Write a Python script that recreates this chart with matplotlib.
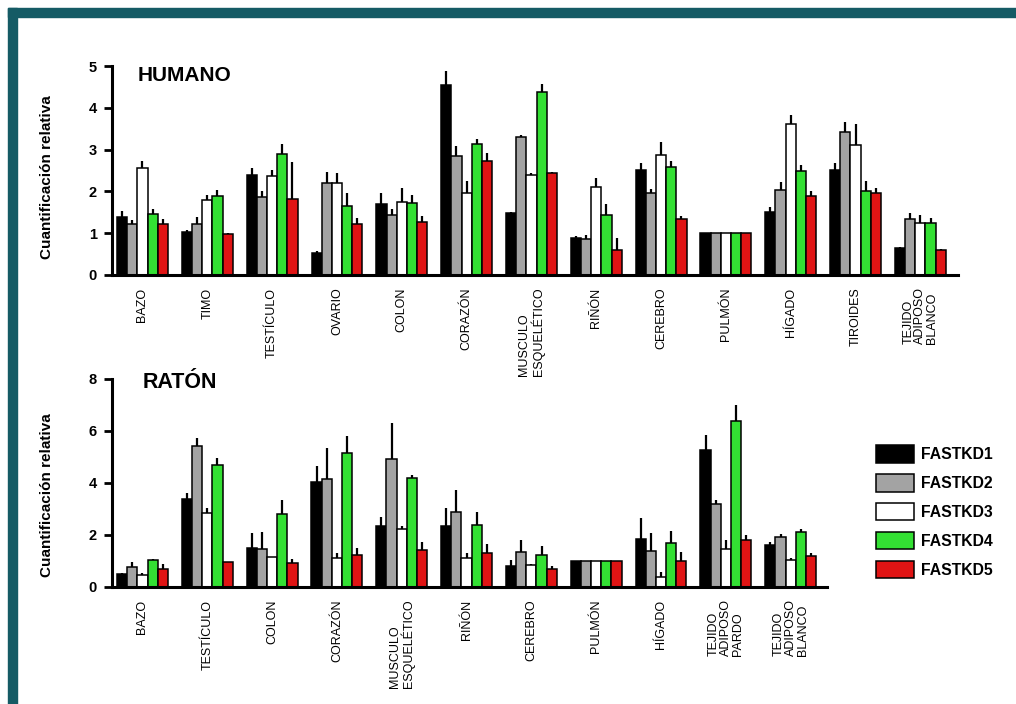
import numpy as np
import matplotlib
matplotlib.use("Agg")
import matplotlib.pyplot as plt
from matplotlib.patches import Patch, Rectangle

plt.rcParams['font.family'] = ['Liberation Sans', 'DejaVu Sans']

genes = ["FASTKD1", "FASTKD2", "FASTKD3", "FASTKD4", "FASTKD5"]
gene_colors = ["#000000", "#a3a3a3", "#ffffff", "#33e033", "#e01414"]

# ---- Human tissues ----
human_tissues = ["BAZO", "TIMO", "TESTÍCULO", "OVARIO", "COLON", "CORAZÓN",
                 "MUSCULO\nESQUELÉTICO", "RIÑÓN", "CEREBRO", "PULMÓN",
                 "HÍGADO", "TIROIDES", "TEJIDO\nADIPOSO\nBLANCO"]
human_fastkd1 = [1.39, 1.03, 2.40, 0.53, 1.70, 4.54, 1.49, 0.88, 2.51, 1.00, 1.51, 2.51, 0.64]
human_fastkd2 = [1.21, 1.23, 1.87, 2.20, 1.43, 2.84, 3.30, 0.86, 1.95, 1.00, 2.03, 3.42, 1.35]
human_fastkd3 = [2.57, 1.79, 2.37, 2.19, 1.75, 1.97, 2.39, 2.11, 2.87, 1.00, 3.61, 3.12, 1.25]
human_fastkd4 = [1.47, 1.89, 2.89, 1.66, 1.73, 3.13, 4.38, 1.43, 2.59, 1.00, 2.49, 2.01, 1.25]
human_fastkd5 = [1.23, 0.98, 1.82, 1.23, 1.27, 2.72, 2.43, 0.60, 1.33, 1.00, 1.89, 1.97, 0.60]
human_err1 = [0.14, 0.04, 0.17, 0.04, 0.27, 0.33, 0.02, 0.06, 0.18, 0.0, 0.12, 0.17, 0.02]
human_err2 = [0.10, 0.15, 0.14, 0.26, 0.16, 0.24, 0.06, 0.10, 0.10, 0.0, 0.20, 0.24, 0.14]
human_err3 = [0.16, 0.12, 0.15, 0.24, 0.32, 0.29, 0.04, 0.20, 0.32, 0.0, 0.21, 0.50, 0.18]
human_err4 = [0.10, 0.15, 0.24, 0.29, 0.18, 0.12, 0.20, 0.26, 0.14, 0.0, 0.14, 0.24, 0.12]
human_err5 = [0.10, 0.02, 0.89, 0.14, 0.14, 0.20, 0.04, 0.28, 0.08, 0.0, 0.11, 0.12, 0.03]

# ---- Mouse tissues ----
mouse_tissues = ["BAZO", "TESTÍCULO", "COLON", "CORAZÓN", "MUSCULO\nESQUELÉTICO",
                 "RIÑÓN", "CEREBRO", "PULMÓN", "HÍGADO",
                 "TEJIDO\nADIPOSO\nPARDO", "TEJIDO\nADIPOSO\nBLANCO"]
mouse_fastkd1 = [0.51, 3.37, 1.50, 4.05, 2.36, 2.35, 0.82, 1.00, 1.86, 5.27, 1.61]
mouse_fastkd2 = [0.77, 5.43, 1.48, 4.14, 4.94, 2.87, 1.35, 1.00, 1.39, 3.19, 1.93]
mouse_fastkd3 = [0.45, 2.86, 1.16, 1.13, 2.25, 1.12, 0.86, 1.00, 0.39, 1.45, 1.03]
mouse_fastkd4 = [1.03, 4.69, 2.80, 5.17, 4.20, 2.37, 1.25, 1.00, 1.70, 6.40, 2.10]
mouse_fastkd5 = [0.68, 0.96, 0.94, 1.25, 1.41, 1.31, 0.69, 1.00, 1.00, 1.80, 1.18]
mouse_err1 = [0.04, 0.26, 0.58, 0.60, 0.32, 0.67, 0.20, 0.0, 0.80, 0.58, 0.13]
mouse_err2 = [0.19, 0.32, 0.64, 1.22, 1.36, 0.86, 0.45, 0.0, 0.67, 0.15, 0.09]
mouse_err3 = [0.10, 0.17, 0.0, 0.18, 0.10, 0.20, 0.03, 0.0, 0.19, 0.35, 0.10]
mouse_err4 = [0.06, 0.26, 0.54, 0.62, 0.10, 0.53, 0.33, 0.0, 0.46, 0.60, 0.13]
mouse_err5 = [0.19, 0.02, 0.15, 0.26, 0.32, 0.33, 0.10, 0.0, 0.35, 0.21, 0.13]

W, H = 1016, 704
fig = plt.figure(figsize=(W / 100, H / 100), dpi=100)
fig.patch.set_facecolor("white")

# teal frame along top and left edges
frame_col = "#155b65"
fig.patches.append(Rectangle((8.3 / W, 1 - 16.7 / H), 1, 8.4 / H,
                             transform=fig.transFigure, color=frame_col, zorder=0))
fig.patches.append(Rectangle((8.3 / W, 0), 8.4 / W, 1 - 8.3 / H,
                             transform=fig.transFigure, color=frame_col, zorder=0))


def px_axes(left, right, top, bottom):
    ax = fig.add_axes([left / W, 1 - bottom / H, (right - left) / W, (bottom - top) / H])
    ax.patch.set_visible(False)
    return ax


def draw_panel(ax, tissues, values, errors, ymax, yticks, title, tx, ty, tsize, xmax):
    x = np.arange(len(tissues))
    bw = 0.157
    for k, (vals, errs, col) in enumerate(zip(values, errors, gene_colors)):
        vals = np.asarray(vals)
        errs = np.asarray(errs)
        ax.bar(x + (k - 2) * bw, vals, width=bw, color=col, edgecolor="black",
               linewidth=1.1, yerr=[np.zeros_like(errs), errs],
               error_kw=dict(ecolor="black", elinewidth=1.6, capsize=0), zorder=2)
    ax.set_xlim(-0.47, xmax)
    ax.set_ylim(0, ymax)
    ax.set_yticks(yticks)
    ax.set_yticklabels([str(t) for t in yticks], fontsize=10.5, fontweight="bold")
    ax.set_xticks(x)
    ax.set_xticklabels(tissues, rotation=90, fontsize=9.0, va="top", ha="center",
                       multialignment="left", linespacing=1.0)
    ax.tick_params(axis="x", length=0, pad=9)
    ax.tick_params(axis="y", direction="out", length=6, width=2, pad=5)
    for s in ("top", "right"):
        ax.spines[s].set_visible(False)
    for s in ("left", "bottom"):
        ax.spines[s].set_linewidth(2.2)
    ax.set_ylabel("Cuantificación relativa", fontsize=11, fontweight="bold")
    ax.text(tx, ty, title, transform=ax.transAxes, fontsize=tsize, fontweight="bold",
            va="baseline", ha="left")


ax1 = px_axes(112, 958, 66, 275)
draw_panel(ax1, human_tissues,
           [human_fastkd1, human_fastkd2, human_fastkd3, human_fastkd4, human_fastkd5],
           [human_err1, human_err2, human_err3, human_err4, human_err5],
           5, [0, 1, 2, 3, 4, 5], "HUMANO", 0.030, 0.928, 15, 12.58)
ax1.yaxis.set_label_coords(-0.068, 0.47)

ax2 = px_axes(112, 827, 379, 587)
draw_panel(ax2, mouse_tissues,
           [mouse_fastkd1, mouse_fastkd2, mouse_fastkd3, mouse_fastkd4, mouse_fastkd5],
           [mouse_err1, mouse_err2, mouse_err3, mouse_err4, mouse_err5],
           8, [0, 2, 4, 6, 8], "RATÓN", 0.043, 0.957, 15.5, 10.56)
ax2.yaxis.set_label_coords(-0.081, 0.44)

handles = [Patch(facecolor=c, edgecolor="black", linewidth=1.1) for c in gene_colors]
leg = fig.legend(handles, genes, loc="upper left", bbox_to_anchor=(876 / W, 1 - 445 / H),
                 frameon=False, borderpad=0, borderaxespad=0, handlelength=2.4,
                 handleheight=1.35, handletextpad=0.45, labelspacing=0.72,
                 prop=dict(size=11.3, weight="bold"))

fig.savefig("out.png", dpi=100)
